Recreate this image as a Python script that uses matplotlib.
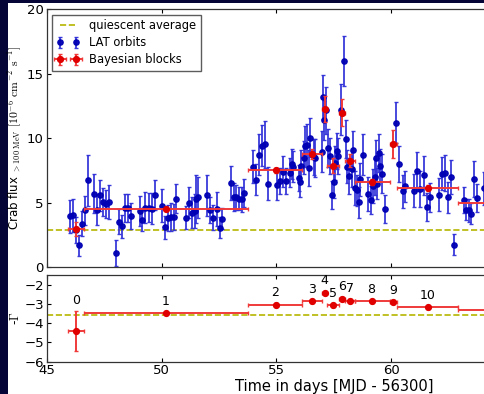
import numpy as np
import matplotlib
matplotlib.use("Agg")
import matplotlib.pyplot as plt
from matplotlib.patches import Rectangle

# LAT orbit light curve: time [MJD - 56300], flux [1e-6 cm^-2 s^-1], 1-sigma error
orbit_t = [46.01, 46.16, 46.28, 46.42, 46.55, 46.68, 46.81, 47.07, 47.20, 47.33,
           47.46, 47.59, 47.72, 48.00, 48.13, 48.26, 48.39, 48.52, 48.65, 49.06,
           49.17, 49.30, 49.45, 49.59, 49.72, 50.00, 50.13, 50.26, 50.39, 50.52,
           50.65, 51.06, 51.19, 51.32, 51.45, 51.52, 51.60, 51.98, 52.12, 52.24,
           52.40, 52.53, 52.65, 53.04, 53.14, 53.25, 53.35, 53.48, 53.58, 53.98,
           54.10, 54.24, 54.36, 54.50, 54.64, 55.03, 55.15, 55.29, 55.42, 55.58,
           55.66, 55.73, 55.98, 56.04, 56.09, 56.19, 56.24, 56.33, 56.40, 56.46,
           56.65, 56.70, 56.97, 57.03, 57.07, 57.17, 57.25, 57.33, 57.43, 57.52,
           57.57, 57.62, 57.70, 57.80, 57.94, 58.01, 58.06, 58.17, 58.30, 58.35,
           58.43, 58.50, 58.58, 58.66, 58.77, 59.00, 59.10, 59.22, 59.30, 59.35,
           59.40, 59.45, 59.52, 59.60, 59.71, 60.22, 60.33, 60.50, 60.60, 61.01,
           61.13, 61.27, 61.41, 61.57, 61.67, 62.07, 62.21, 62.34, 62.49, 62.62,
           62.75, 63.16, 63.26, 63.37, 63.46, 63.60, 63.75, 64.05]
orbit_flux = [3.94, 4.02, 2.90, 1.69, 3.37, 4.40, 6.73, 5.70, 4.46, 5.57,
              5.05, 4.92, 5.04, 1.10, 3.53, 3.17, 4.56, 4.56, 3.99, 4.35,
              3.68, 4.61, 4.61, 4.51, 5.59, 4.77, 3.09, 3.78, 3.86, 3.86,
              5.31, 3.84, 5.00, 4.20, 4.36, 5.28, 5.40, 5.57, 4.40, 3.84,
              4.50, 3.06, 3.75, 6.52, 5.44, 5.40, 5.32, 5.25, 5.75, 7.79,
              6.78, 8.72, 9.43, 9.52, 6.48, 6.34, 6.67, 7.41, 6.68, 7.33,
              8.00, 7.78, 6.92, 6.62, 7.87, 8.50, 9.36, 9.47, 7.70, 10.05,
              8.55, 8.46, 8.97, 13.19, 11.38, 12.16, 9.24, 8.59, 5.57, 6.57,
              8.07, 8.98, 8.64, 12.22, 16.03, 9.94, 7.80, 7.07, 7.60, 9.06,
              6.14, 5.95, 5.03, 6.80, 8.72, 5.67, 5.20, 6.30, 7.00, 8.46,
              6.47, 8.85, 7.87, 7.25, 4.51, 11.22, 8.02, 5.88, 6.26, 5.94,
              7.43, 6.06, 7.12, 4.66, 5.40, 5.62, 7.25, 7.33, 5.43, 6.99,
              1.74, 5.18, 4.45, 4.40, 4.15, 6.84, 5.36, 6.10]
orbit_err = [1.3, 1.3, 1.0, 0.8, 1.0, 1.1, 2.0, 1.5, 1.2, 1.2,
             1.1, 1.1, 1.3, 1.0, 1.0, 0.9, 1.1, 1.1, 1.0, 1.2,
             0.9, 1.2, 1.1, 1.2, 1.2, 1.3, 0.9, 1.0, 1.1, 1.0,
             1.1, 0.9, 1.2, 1.2, 1.3, 1.9, 1.6, 1.6, 1.0, 1.0,
             1.3, 0.8, 0.8, 1.3, 1.1, 1.0, 0.9, 1.0, 1.1, 1.3,
             1.2, 1.6, 1.6, 1.8, 1.3, 1.1, 1.0, 1.2, 1.0, 1.1,
             1.2, 1.2, 1.0, 1.2, 1.2, 1.3, 1.6, 1.6, 1.4, 1.5,
             1.4, 1.5, 1.6, 1.7, 1.5, 1.8, 1.5, 1.4, 1.1, 1.2,
             1.3, 1.4, 1.4, 2.0, 1.95, 1.5, 1.3, 1.4, 1.4, 1.5,
             1.3, 1.2, 1.2, 1.3, 1.6, 1.3, 1.1, 1.3, 1.4, 1.4,
             1.2, 1.5, 1.3, 1.5, 1.1, 1.6, 1.4, 1.3, 1.2, 1.3,
             1.5, 1.4, 1.5, 1.1, 1.1, 1.3, 1.3, 1.4, 1.2, 1.3,
             0.8, 1.0, 0.8, 0.9, 0.8, 1.4, 1.1, 1.3]

# Bayesian blocks
block_start = [45.94, 46.61, 53.77, 56.11, 57.00, 57.20, 57.72, 57.97, 58.40, 59.93, 60.25, 62.90]
block_end   = [46.61, 53.77, 56.11, 57.00, 57.20, 57.72, 57.97, 58.40, 59.93, 60.25, 62.90, 67.10]
block_t     = [46.27, 50.19, 54.96, 56.57, 57.10, 57.46, 57.87, 58.20, 59.14, 60.07, 61.59, 65.00]
block_flux  = [2.96, 4.51, 7.50, 8.78, 12.29, 7.87, 11.98, 8.26, 6.60, 9.55, 6.14, 4.98]
block_flux_err = [0.55, 0.12, 0.20, 0.40, 1.00, 0.60, 1.05, 0.50, 0.25, 1.10, 0.25, 0.30]
block_index = [-4.41, -3.47, -3.04, -2.87, -2.43, -3.08, -2.73, -2.83, -2.87, -2.90, -3.18, -3.30]
block_index_err = [1.04, 0.07, 0.07, 0.07, 0.08, 0.08, 0.08, 0.07, 0.07, 0.07, 0.07, 0.07]
block_labels = [str(i) for i in range(len(block_t))]

quiescent_flux = 2.9
quiescent_index = -3.60

NAVY = "#050538"
YEL = "#b5b500"
BLUE = "#0000b4"
BLUE_ERR = "#3030d8"
RED = "#e00000"
RED_ERR = "#f03a3a"

plt.rcParams["mathtext.fontset"] = "cm"
plt.rcParams["font.family"] = "DejaVu Sans"

fig = plt.figure(figsize=(4.84, 3.94), dpi=100, facecolor=NAVY)
fig.patches.append(Rectangle((8 / 484, 0), 1, 391 / 394, transform=fig.transFigure,
                             facecolor="white", edgecolor="none", zorder=-10))

# the original figure runs to MJD 70, the slide crops it a bit past 64
left = 46.7 / 484
width = (621 - 46.7) / 484
ax1 = fig.add_axes([left, 0.3223, width, 0.6536])
ax2 = fig.add_axes([left, 0.082, width, 0.22])

t_b = np.array(block_t)
xerr = [t_b - np.array(block_start), np.array(block_end) - t_b]

# top: flux
ax1.axhline(quiescent_flux, color=YEL, ls="--", lw=1.2, label="quiescent average")
ax1.errorbar(orbit_t, orbit_flux, yerr=orbit_err, fmt="o", color=BLUE, ecolor=BLUE_ERR,
             ms=3.8, mec=BLUE, elinewidth=1.3, capsize=1.6, alpha=0.95, label="LAT orbits")
ax1.errorbar(block_t, block_flux, xerr=xerr, yerr=block_flux_err, fmt="o", color=RED,
             ecolor=RED_ERR, ms=4.2, mec=RED, elinewidth=1.4, capsize=1.6,
             label="Bayesian blocks", zorder=5)
ax1.set_xlim(45, 70)
ax1.set_ylim(0, 20)
ax1.set_yticks([0, 5, 10, 15, 20])
ax1.set_ylabel(r"Crab flux $_{>100\ \rm MeV}\ [10^{-6}\ \rm cm^{-2}\ s^{-1}]$", fontsize=8.5, labelpad=2)
ax1.legend(loc="upper left", numpoints=2, fontsize=8.3, frameon=True, fancybox=False,
           edgecolor="#333333", borderaxespad=0.45, handlelength=2.0, labelspacing=0.35)

# bottom: photon index
ax2.axhline(quiescent_index, color=YEL, ls="--", lw=1.2)
ax2.errorbar(block_t, block_index, xerr=xerr, yerr=block_index_err, fmt="o", color=RED,
             ecolor=RED_ERR, ms=4.2, mec=RED, elinewidth=1.4, capsize=1.6)
for t, y, e, lab in zip(block_t, block_index, block_index_err, block_labels):
    if t < 64.5:
        ax2.text(t, y + e + 0.55, lab, ha="center", va="center", fontsize=9)
ax2.set_xlim(45, 70)
ax2.set_ylim(-6, -1.5)
ax2.set_yticks([-2, -3, -4, -5, -6])
ax2.set_xticks([45, 50, 55, 60])
ax2.set_ylabel(r"-$\Gamma$", fontsize=9, labelpad=2)
ax2.set_xlabel("Time in days [MJD - 56300]", fontsize=10.5, labelpad=1)

for ax in (ax1, ax2):
    ax.tick_params(direction="in", top=True, right=True, length=3, width=0.8,
                   labelsize=9.5, pad=2)
    for s in ax.spines.values():
        s.set_color("#333333")
        s.set_linewidth(0.9)
ax1.set_xticks([45, 50, 55, 60])
ax1.tick_params(labelbottom=False)

fig.savefig("out.png", dpi=100, facecolor=NAVY)
